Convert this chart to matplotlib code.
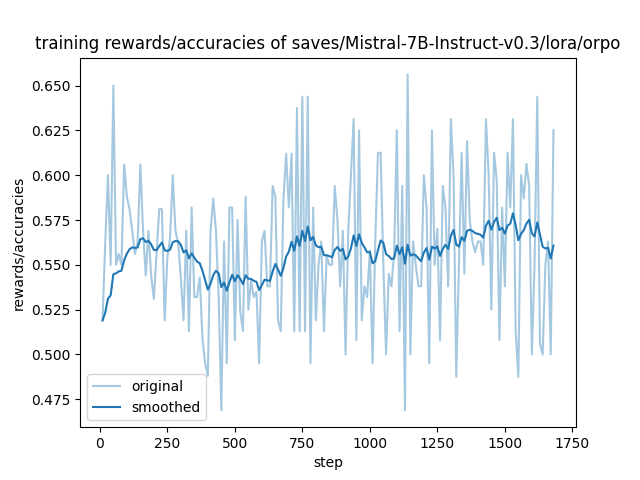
import math
import matplotlib
matplotlib.use("Agg")
import matplotlib.pyplot as plt

key = "rewards/accuracies"
save_dir = "saves/Mistral-7B-Instruct-v0.3/lora/orpo"

# logged every 10 steps
steps = list(range(10, 1690, 10))
accuracies = [
    0.519, 0.5625, 0.600, 0.550, 0.650, 0.550, 0.556, 0.550, 0.606, 0.588, 0.581, 0.569,
    0.556, 0.563, 0.606, 0.569, 0.544, 0.569, 0.544, 0.531, 0.556, 0.581, 0.581, 0.519,
    0.554, 0.565, 0.600, 0.569, 0.562, 0.543, 0.519, 0.569, 0.513, 0.582, 0.532, 0.532,
    0.543, 0.509, 0.495, 0.488, 0.569, 0.587, 0.569, 0.532, 0.46875, 0.563, 0.495, 0.582,
    0.582, 0.508, 0.575, 0.524, 0.513, 0.588, 0.525, 0.541, 0.532, 0.535, 0.495, 0.563,
    0.569, 0.538, 0.538, 0.594, 0.588, 0.519, 0.513, 0.587, 0.612, 0.582, 0.612, 0.513,
    0.6375, 0.513, 0.64375, 0.513, 0.64375, 0.495, 0.582, 0.519, 0.550, 0.563, 0.513, 0.555,
    0.550, 0.550, 0.594, 0.575, 0.538, 0.569, 0.500, 0.569, 0.600, 0.63125, 0.508, 0.625,
    0.519, 0.538, 0.532, 0.558, 0.495, 0.563, 0.6125, 0.6125, 0.550, 0.500, 0.545, 0.538,
    0.557, 0.625, 0.513, 0.594, 0.46875, 0.65625, 0.500, 0.563, 0.550, 0.538, 0.538, 0.600,
    0.582, 0.495, 0.625, 0.550, 0.570, 0.508, 0.594, 0.582, 0.538, 0.63125, 0.600, 0.4875,
    0.550, 0.6125, 0.545, 0.619, 0.575, 0.563, 0.557, 0.563, 0.563, 0.550, 0.63125, 0.600,
    0.525, 0.6125, 0.597, 0.508, 0.582, 0.538, 0.6125, 0.582, 0.63125, 0.513, 0.4875, 0.600,
    0.587, 0.60625, 0.594, 0.500, 0.550, 0.64375, 0.506, 0.500, 0.550, 0.563, 0.500, 0.625,
]


def smooth(scalars):
    # exponential moving average, weight depends on number of points
    last = scalars[0]
    smoothed = []
    weight = 1.8 * (1 / (1 + math.exp(-0.05 * len(scalars))) - 0.5)
    for val in scalars:
        last = last * weight + (1 - weight) * val
        smoothed.append(last)
    return smoothed


plt.figure(figsize=(6.4, 4.8), dpi=100)
plt.plot(steps, accuracies, color="#1f77b4", alpha=0.4, label="original")
plt.plot(steps, smooth(accuracies), color="#1f77b4", label="smoothed")
plt.legend()
plt.title("training {} of {}".format(key, save_dir))
plt.xlabel("step")
plt.ylabel(key)
plt.savefig("out.png", dpi=100)
